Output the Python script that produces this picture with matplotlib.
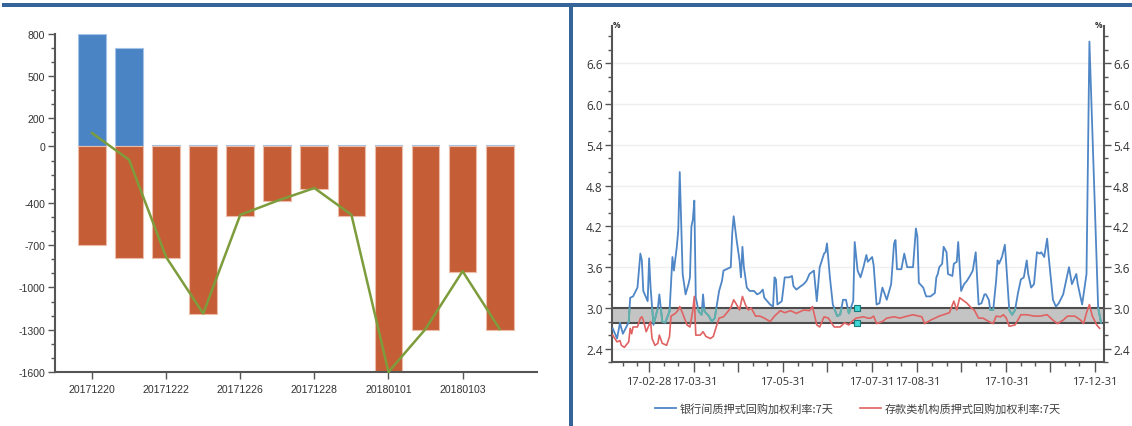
import matplotlib
matplotlib.use('Agg')
import matplotlib.pyplot as plt
import matplotlib.dates as mdates
from matplotlib import font_manager
from matplotlib.patches import Rectangle
from matplotlib.lines import Line2D
from matplotlib.ticker import MultipleLocator, FixedLocator, FuncFormatter
import numpy as np
import pandas as pd

# ---------------- data: left panel ----------------
categories = ['20171220', '20171221', '20171222', '20171225', '20171226', '20171227',
              '20171228', '20171229', '20180101', '20180102', '20180103', '20180104']
inflow = [800, 700, 10, 10, 10, 10, 10, 10, 10, 10, 10, 10]
outflow = [-700, -790, -790, -1190, -490, -390, -300, -490, -1600, -1300, -890, -1300]
net_flow = [95, -95, -785, -1185, -485, -385, -295, -485, -1600, -1295, -885, -1295]
left_yticks = [800, 500, 200, 0, -400, -700, -1000, -1300, -1600]

# ---------------- data: right panel ----------------
blue_dates = ['2017-02-03', '2017-02-06', '2017-02-08', '2017-02-10', '2017-02-14', '2017-02-15',
              '2017-02-17', '2017-02-20', '2017-02-22', '2017-02-23', '2017-02-24', '2017-02-27',
              '2017-02-28', '2017-03-01', '2017-03-03', '2017-03-06', '2017-03-07', '2017-03-09',
              '2017-03-11', '2017-03-14', '2017-03-16', '2017-03-17', '2017-03-19', '2017-03-20',
              '2017-03-21', '2017-03-23', '2017-03-25', '2017-03-27', '2017-03-28', '2017-03-29',
              '2017-03-30', '2017-03-31', '2017-04-01', '2017-04-03', '2017-04-05', '2017-04-06',
              '2017-04-07', '2017-04-10', '2017-04-12', '2017-04-14', '2017-04-17', '2017-04-19',
              '2017-04-20', '2017-04-22', '2017-04-25', '2017-04-26', '2017-04-27', '2017-04-29',
              '2017-05-01', '2017-05-02', '2017-05-03', '2017-05-04', '2017-05-06', '2017-05-08',
              '2017-05-11', '2017-05-13', '2017-05-15', '2017-05-17', '2017-05-18', '2017-05-22',
              '2017-05-24', '2017-05-25', '2017-05-26', '2017-05-27', '2017-05-30', '2017-06-01',
              '2017-06-04', '2017-06-06', '2017-06-07', '2017-06-09', '2017-06-12', '2017-06-14',
              '2017-06-16', '2017-06-18', '2017-06-21', '2017-06-23', '2017-06-25', '2017-06-28',
              '2017-06-29', '2017-06-30', '2017-07-02', '2017-07-04', '2017-07-07', '2017-07-09',
              '2017-07-11', '2017-07-13', '2017-07-15', '2017-07-18', '2017-07-19', '2017-07-21',
              '2017-07-23', '2017-07-25', '2017-07-27', '2017-07-28', '2017-07-31', '2017-08-01',
              '2017-08-03', '2017-08-05', '2017-08-07', '2017-08-10', '2017-08-13', '2017-08-15',
              '2017-08-16', '2017-08-17', '2017-08-20', '2017-08-22', '2017-08-24', '2017-08-28',
              '2017-08-30', '2017-08-31', '2017-09-01', '2017-09-04', '2017-09-06', '2017-09-09',
              '2017-09-12', '2017-09-13', '2017-09-14', '2017-09-15', '2017-09-17', '2017-09-18',
              '2017-09-20', '2017-09-21', '2017-09-24', '2017-09-25', '2017-09-27', '2017-09-28',
              '2017-09-30', '2017-10-02', '2017-10-04', '2017-10-06', '2017-10-08', '2017-10-10',
              '2017-10-12', '2017-10-14', '2017-10-16', '2017-10-17', '2017-10-19', '2017-10-20',
              '2017-10-22', '2017-10-24', '2017-10-25', '2017-10-26', '2017-10-28', '2017-10-30',
              '2017-10-31', '2017-11-02', '2017-11-04', '2017-11-06', '2017-11-08', '2017-11-10',
              '2017-11-12', '2017-11-14', '2017-11-15', '2017-11-17', '2017-11-19', '2017-11-21',
              '2017-11-23', '2017-11-24', '2017-11-26', '2017-11-28', '2017-11-29', '2017-12-02',
              '2017-12-04', '2017-12-06', '2017-12-09', '2017-12-13', '2017-12-15', '2017-12-18',
              '2017-12-19', '2017-12-22', '2017-12-24', '2017-12-25', '2017-12-27', '2018-01-02',
              '2018-01-04']
blue_vals = [2.70, 2.55, 2.78, 2.62, 2.79, 3.15,
             3.17, 3.30, 3.80, 3.70, 3.25, 3.10,
             3.73, 3.30, 2.75, 3.00, 3.20, 2.80,
             2.78, 2.95, 3.75, 3.55, 3.90, 4.15,
             5.00, 3.50, 3.20, 3.35, 3.45, 4.20,
             4.30, 4.58, 3.15, 2.95, 2.90, 3.20,
             2.95, 2.88, 2.80, 2.85, 3.25, 3.40,
             3.55, 3.57, 3.60, 4.10, 4.35, 4.00,
             3.70, 3.45, 3.90, 3.60, 3.30, 3.25,
             3.25, 3.20, 3.22, 3.27, 3.15, 3.05,
             3.02, 3.45, 3.42, 3.05, 3.10, 3.45,
             3.45, 3.47, 3.32, 3.27, 3.32, 3.35,
             3.40, 3.50, 3.55, 3.10, 3.60, 3.80,
             3.82, 3.95, 3.45, 3.05, 2.88, 2.90,
             3.12, 3.12, 2.92, 3.10, 3.97, 3.55,
             3.45, 3.60, 3.78, 3.68, 3.75, 3.63,
             3.05, 3.07, 3.30, 3.12, 3.35, 3.95,
             4.00, 3.57, 3.57, 3.80, 3.60, 3.60,
             4.17, 4.05, 3.37, 3.30, 3.17, 3.17,
             3.22, 3.45, 3.50, 3.60, 3.65, 3.90,
             3.82, 3.50, 3.47, 3.65, 3.68, 3.97,
             3.25, 3.35, 3.40, 3.47, 3.55, 3.82,
             3.05, 3.07, 3.20, 3.20, 3.12, 2.97,
             2.97, 3.40, 3.70, 3.65, 3.75, 3.93,
             3.63, 2.97, 2.90, 2.97, 3.22, 3.42,
             3.45, 3.70, 3.50, 3.30, 3.35, 3.82,
             3.80, 3.82, 3.75, 4.02, 3.77, 3.12,
             3.02, 3.07, 3.20, 3.60, 3.35, 3.50,
             3.35, 3.05, 3.35, 3.50, 6.92, 3.00,
             2.78]

red_dates = ['2017-02-03', '2017-02-06', '2017-02-08', '2017-02-09', '2017-02-11', '2017-02-14',
             '2017-02-15', '2017-02-16', '2017-02-17', '2017-02-20', '2017-02-22', '2017-02-23',
             '2017-02-24', '2017-02-26', '2017-03-01', '2017-03-02', '2017-03-04', '2017-03-06',
             '2017-03-07', '2017-03-09', '2017-03-12', '2017-03-14', '2017-03-15', '2017-03-18',
             '2017-03-20', '2017-03-21', '2017-03-23', '2017-03-26', '2017-03-28', '2017-03-30',
             '2017-03-31', '2017-04-01', '2017-04-04', '2017-04-06', '2017-04-08', '2017-04-11',
             '2017-04-13', '2017-04-15', '2017-04-17', '2017-04-20', '2017-04-22', '2017-04-25',
             '2017-04-27', '2017-04-29', '2017-05-01', '2017-05-03', '2017-05-05', '2017-05-07',
             '2017-05-09', '2017-05-12', '2017-05-15', '2017-05-18', '2017-05-22', '2017-05-25',
             '2017-05-29', '2017-06-01', '2017-06-05', '2017-06-09', '2017-06-14', '2017-06-18',
             '2017-06-20', '2017-06-23', '2017-06-25', '2017-06-28', '2017-07-01', '2017-07-03',
             '2017-07-05', '2017-07-09', '2017-07-12', '2017-07-15', '2017-07-17', '2017-07-20',
             '2017-07-25', '2017-07-28', '2017-07-30', '2017-08-01', '2017-08-03', '2017-08-07',
             '2017-08-10', '2017-08-15', '2017-08-19', '2017-08-24', '2017-08-28', '2017-09-03',
             '2017-09-05', '2017-09-09', '2017-09-15', '2017-09-22', '2017-09-25', '2017-09-27',
             '2017-09-29', '2017-10-04', '2017-10-07', '2017-10-09', '2017-10-12', '2017-10-15',
             '2017-10-19', '2017-10-22', '2017-10-24', '2017-10-27', '2017-10-29', '2017-10-31',
             '2017-11-02', '2017-11-06', '2017-11-10', '2017-11-14', '2017-11-19', '2017-11-23',
             '2017-11-28', '2017-12-02', '2017-12-05', '2017-12-09', '2017-12-12', '2017-12-17',
             '2017-12-21', '2017-12-23', '2017-12-25', '2017-12-27', '2017-12-29', '2018-01-01',
             '2018-01-03']
red_vals = [2.60, 2.50, 2.52, 2.45, 2.42, 2.50,
            2.70, 2.62, 2.72, 2.72, 2.85, 2.87,
            2.82, 2.65, 2.80, 2.55, 2.45, 2.48,
            2.60, 2.48, 2.45, 2.58, 2.88, 2.92,
            2.97, 3.02, 2.92, 2.75, 2.72, 2.97,
            3.17, 2.60, 2.60, 2.65, 2.58, 2.55,
            2.58, 2.72, 2.85, 2.87, 2.92, 3.00,
            3.12, 3.05, 2.97, 3.17, 3.05, 2.97,
            3.00, 2.88, 2.88, 2.85, 2.80, 2.88,
            2.96, 2.93, 2.96, 2.92, 2.97, 2.96,
            3.02, 2.75, 2.72, 2.87, 2.85, 2.78,
            2.72, 2.72, 2.78, 2.75, 2.80, 2.85,
            2.87, 2.85, 2.85, 2.88, 2.77, 2.80,
            2.85, 2.87, 2.85, 2.88, 2.90, 2.87,
            2.77, 2.82, 2.88, 2.93, 3.10, 2.97,
            3.15, 3.07, 3.00, 2.97, 2.85, 2.85,
            2.80, 2.77, 2.88, 2.87, 2.90, 2.85,
            2.73, 2.75, 2.90, 2.90, 2.88, 2.88,
            2.90, 2.82, 2.77, 2.82, 2.88, 2.88,
            2.82, 2.77, 2.93, 3.05, 2.88, 2.75,
            2.70]

band_low, band_high = 2.775, 3.0
handle_date = '2017-07-20 10:00'
right_yticks = [2.4, 3.0, 3.6, 4.2, 4.8, 5.4, 6.0, 6.6]
labeled_dates = ['2017-02-28', '2017-03-31', '2017-05-31', '2017-07-31',
                 '2017-08-31', '2017-10-31', '2017-12-31']
legend_labels = ['银行间质押式回购加权利率:7天', '存款类机构质押式回购加权利率:7天']

# ---------------- fonts ----------------
installed = {f.name for f in font_manager.fontManager.ttflist}
left_font = 'Liberation Sans Narrow' if 'Liberation Sans Narrow' in installed else 'Liberation Sans'
left_size = 9 if left_font == 'Liberation Sans Narrow' else 7.6
plt.rcParams['font.family'] = ['Open Sans', 'Noto Sans CJK SC', 'DejaVu Sans']

W, H = 1132, 427
fig = plt.figure(figsize=(W / 100, H / 100), dpi=100)
fig.patch.set_facecolor('white')

# ---------------- left panel ----------------
ax1 = fig.add_axes([55 / W, 1 - 373 / H, (536.7 - 55) / W, (373 - 34.7) / H])
x = np.arange(len(categories))
ax1.bar(x, inflow, width=0.75, color='#4a84c4', edgecolor='#a4c2e6', linewidth=0.8, zorder=2)
ax1.bar(x, outflow, width=0.75, color='#c55e36', edgecolor='#ecbca8', linewidth=0.8, zorder=2)
ax1.plot(x, net_flow, color='#7d9c3c', lw=1.8, zorder=3, clip_on=False)
ax1.set_xlim(-1, len(categories))
ax1.set_ylim(-1600, 800)
for s in ['top', 'right']:
    ax1.spines[s].set_visible(False)
for s in ['left', 'bottom']:
    ax1.spines[s].set_color('#555555')
    ax1.spines[s].set_linewidth(1.5)
ax1.yaxis.set_major_locator(FixedLocator(left_yticks))
ax1.yaxis.set_minor_locator(MultipleLocator(100))
ax1.set_yticklabels([str(v) for v in left_yticks])
ax1.set_xticks(x[::2])
ax1.set_xticklabels(categories[::2])
ax1.tick_params(axis='both', which='major', direction='out', length=5, width=1,
                color='#555555', labelcolor='#333333', labelsize=left_size, pad=2)
ax1.tick_params(axis='y', which='minor', direction='out', length=3, width=1, color='#555555')
ax1.tick_params(axis='x', pad=4)
for lab in ax1.get_xticklabels() + ax1.get_yticklabels():
    lab.set_fontfamily(left_font)

# ---------------- right panel ----------------
ax2 = fig.add_axes([611.7 / W, 1 - 363.3 / H, (1104 - 611.7) / W, (363.3 - 27) / H])
bd = pd.to_datetime(blue_dates)
rd = pd.to_datetime(red_dates)

for v in right_yticks:
    ax2.axhline(v, color='#efefef', lw=1, zorder=0)
ax2.axhspan(band_low, band_high, facecolor='#c4c4c4', edgecolor='none', zorder=1)
ax2.axhline(band_high, color='#4d4d4d', lw=1.5, zorder=2)
ax2.axhline(band_low, color='#4d4d4d', lw=1.5, zorder=2)

l1, = ax2.plot(bd, blue_vals, color='#4f86c6', lw=1.3, zorder=3)
lt, = ax2.plot(bd, blue_vals, color='#5fb3a8', lw=1.3, zorder=3.5)
clip_rect = Rectangle((0, band_low), 1, band_high - band_low, transform=ax2.get_yaxis_transform(),
                      facecolor='none', edgecolor='none')
ax2.add_patch(clip_rect)
lt.set_clip_path(clip_rect)
l2, = ax2.plot(rd, red_vals, color='#e06262', lw=1.2, zorder=4)

hd = pd.to_datetime([handle_date, handle_date])
ax2.plot(hd, [band_high, band_low], ls='none', marker='s', ms=5, mfc='#3fd6d6', mec='#1b7a7a',
         mew=0.8, zorder=6, clip_on=False)

ax2.set_xlim(pd.Timestamp('2017-02-02 08:00'), pd.Timestamp('2018-01-06'))
ax2.set_ylim(2.2, 7.15)

month_ends = [pd.Timestamp(2017, m, 1) + pd.offsets.MonthEnd(0) for m in range(2, 13)]
minor_days = []
for yy, mm in [(2017, m) for m in range(2, 13)] + [(2018, 1)]:
    minor_days += [pd.Timestamp(yy, mm, 10), pd.Timestamp(yy, mm, 20)]
ax2.xaxis.set_major_locator(FixedLocator(mdates.date2num(month_ends)))
ax2.xaxis.set_minor_locator(FixedLocator(mdates.date2num(minor_days)))
lab_set = set(pd.to_datetime(labeled_dates).strftime('%Y-%m-%d'))


def date_fmt(val, pos=None):
    d = mdates.num2date(val)
    key = d.strftime('%Y-%m-%d')
    return d.strftime('%y-%m-%d') if key in lab_set else ''


ax2.xaxis.set_major_formatter(FuncFormatter(date_fmt))
ax2.yaxis.set_major_locator(FixedLocator(right_yticks))
ax2.yaxis.set_minor_locator(MultipleLocator(0.2))
ax2.yaxis.set_major_formatter(FuncFormatter(lambda v, p: f'{v:.1f}'))

for s in ['top']:
    ax2.spines[s].set_visible(False)
for s in ['left', 'right', 'bottom']:
    ax2.spines[s].set_color('#555555')
    ax2.spines[s].set_linewidth(1.5)
ax2.tick_params(axis='y', which='both', left=True, right=True, labelleft=True, labelright=True)
ax2.tick_params(axis='both', which='major', direction='out', length=5, width=1,
                color='#555555', labelcolor='#333333')
ax2.tick_params(axis='both', which='minor', direction='out', length=3, width=1, color='#555555')
ax2.tick_params(axis='y', labelsize=8.5, pad=1.5)
ax2.tick_params(axis='x', which='major', length=7, labelsize=8, pad=3)

ax2.text(0.003, 1.003, '%', transform=ax2.transAxes, ha='left', va='center',
         fontsize=6, fontweight='bold', color='#333333')
ax2.text(0.997, 1.003, '%', transform=ax2.transAxes, ha='right', va='center',
         fontsize=6, fontweight='bold', color='#333333')

handles = [Line2D([], [], color='#4f86c6', lw=1.3), Line2D([], [], color='#e06262', lw=1.2)]
fig.legend(handles, legend_labels, loc='center', bbox_to_anchor=(857.5 / W, 1 - 409 / H),
           ncol=2, frameon=False, handlelength=1.9, handletextpad=0.3, columnspacing=2.4,
           prop={'family': ['Noto Sans CJK SC', 'DejaVu Sans'], 'size': 8},
           labelcolor='#404040')

# ---------------- frame decorations ----------------
fig.add_artist(Rectangle((2 / W, 1 - 8 / H), 1, 4 / H, transform=fig.transFigure,
                         facecolor='#34649a', edgecolor='none'))
fig.add_artist(Rectangle((569 / W, 0), 4 / W, 1 - 4 / H, transform=fig.transFigure,
                         facecolor='#34649a', edgecolor='none'))

fig.savefig('out.png', dpi=100)
